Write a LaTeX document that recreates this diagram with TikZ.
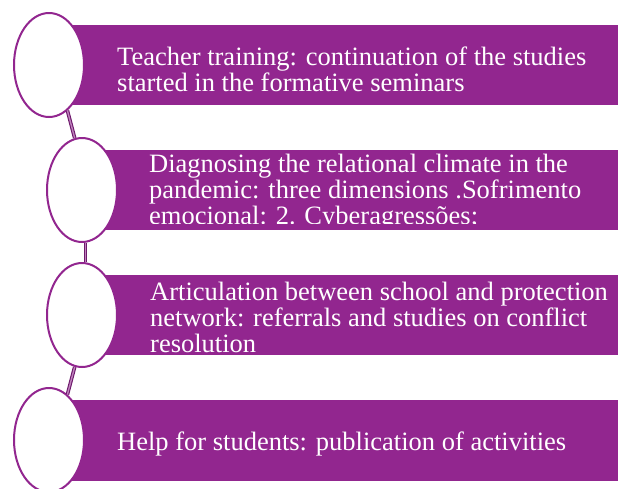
\documentclass[tikz,border=0pt]{standalone}
\usepackage{fontspec}
\setmainfont{Liberation Serif}
\usetikzlibrary{shapes.geometric}
\definecolor{barpurple}{RGB}{146,38,143}
\definecolor{linkdark}{RGB}{110,25,108}
\definecolor{linklight}{RGB}{190,130,188}
\tikzset{
  barfill/.style={fill=barpurple, draw=none},
  bubble/.style={ellipse, draw=barpurple, line width=2pt, fill=white,
    minimum width=70pt, minimum height=104pt, inner sep=0pt},
  bartext/.style={anchor=base west, inner sep=0pt, align=left, text=white,
    font=\fontsize{26.5}{26}\selectfont},
  link/.style={draw=linkdark, line width=1.1pt, double=linklight, double distance=1.4pt}
}
\begin{document}
\begin{tikzpicture}[x=1pt, y=-1pt]
\useasboundingbox (0,0) rectangle (618,488);
% bars
\fill[barfill] (49,25) rectangle (618,105);
\fill[barfill] (82,150) rectangle (618,230);
\fill[barfill] (82,275) rectangle (618,355);
\fill[barfill] (49,400) rectangle (618,481);
% texts (base anchor = baseline of the last line)
\node[bartext] (t1) at (117,91) {Teacher training: continuation of the studies\\started in the formative seminars};
\begin{scope}
  \clip (82,150) rectangle (618,223);
  \node[bartext] (t2) at (149,224) {Diagnosing the relational climate in the\\pandemic: three dimensions .Sofrimento\\emocional: 2. Cyberagressões;};
\end{scope}
\node[bartext] (t3) at (150,352) {Articulation between school and protection\\network: referrals and studies on conflict\\resolution};
\node[bartext] (t4) at (117,450) {Help for students: publication of activities};
% bubbles
\node[bubble] (e1) at (49,65) {};
\node[bubble] (e2) at (82,190) {};
\node[bubble] (e3) at (82,315) {};
\node[bubble] (e4) at (49,440) {};
% connectors
\draw[link] (e1.-68) -- (e2.98);
\draw[link] (e2.-86) -- (e3.86);
\draw[link] (e3.-98) -- (e4.68);
\end{tikzpicture}
\end{document}
